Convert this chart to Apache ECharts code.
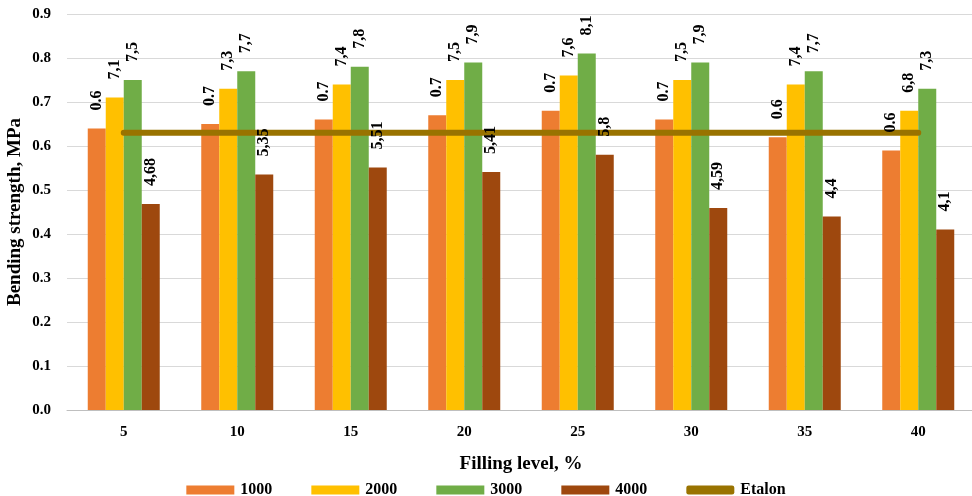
<!DOCTYPE html>
<html><head><meta charset="utf-8">
<script src="https://cdn.jsdelivr.net/npm/echarts@6/dist/echarts.min.js"></script>
<style>html,body{margin:0;padding:0;background:#fff}#c{width:972px;height:496px}</style>
</head><body><div id="c"></div>
<script>
const categories = ['5','10','15','20','25','30','35','40'];
const s1000 = [0.64,0.65,0.66,0.67,0.68,0.66,0.62,0.59];
const s2000 = [0.71,0.73,0.74,0.75,0.76,0.75,0.74,0.68];
const s3000 = [0.75,0.77,0.78,0.79,0.81,0.79,0.77,0.73];
const s4000 = [0.468,0.535,0.551,0.541,0.58,0.459,0.44,0.41];
const etalon = [0.63,0.63,0.63,0.63,0.63,0.63,0.63,0.63];
const lab1000 = ['0.6','0.7','0.7','0.7','0.7','0.7','0.6','0.6'];
const lab2000 = ['7,1','7,3','7,4','7,5','7,6','7,5','7,4','6,8'];
const lab3000 = ['7,5','7,7','7,8','7,9','8,1','7,9','7,7','7,3'];
const lab4000 = ['4,68','5,35','5,51','5,41','5,8','4,59','4,4','4,1'];
const yTicks = ['0.0','0.1','0.2','0.3','0.4','0.5','0.6','0.7','0.8','0.9'];

const font = 'Liberation Serif';
function barSeries(name, data, color){
  return {name, type:'bar', data, barWidth:18, barGap:'0%', xAxisIndex:0, z:2,
    itemStyle:{color}};
}
function labelSeries(name, data, labels){
  return {
    name, type:'bar', data, barWidth:18, barGap:'0%', xAxisIndex:1, z:10, silent:true,
    itemStyle:{color:'rgba(0,0,0,0)'},
    label:{show:true, position:'top', rotate:90, align:'left', verticalAlign:'middle', distance:18,
      fontFamily:font, fontWeight:'bold', fontSize:16, color:'#000',
      formatter:p=>labels[p.dataIndex]}
  };
}
const axisCommon = {type:'category',data:categories};
const chart = echarts.init(document.getElementById('c'));
chart.setOption({
  animation:false,
  grid:{left:67,width:908,top:14,bottom:86,containLabel:false,outerBoundsMode:'none'},
  legend:{top:477,left:'center',itemWidth:48,itemHeight:9,itemGap:39,
    textStyle:{fontFamily:font,fontWeight:'bold',fontSize:16,color:'#000',padding:[0,0,0,1]},
    data:[{name:'1000',icon:'rect'},{name:'2000',icon:'rect'},{name:'3000',icon:'rect'},{name:'4000',icon:'rect'},
      {name:'Etalon',icon:'roundRect',itemStyle:{color:'#997300'}}]},
  xAxis:[Object.assign({},axisCommon,{
    name:'Filling level, %',nameLocation:'middle',nameGap:45,
    nameTextStyle:{fontFamily:font,fontWeight:'bold',fontSize:19,color:'#000'},
    axisTick:{show:false},axisLine:{lineStyle:{color:'#bfbfbf',width:1}},
    axisLabel:{fontFamily:font,fontWeight:'bold',fontSize:15,color:'#000',margin:15}}),
    Object.assign({},axisCommon,{show:false,position:'bottom'})],
  yAxis:{type:'value',min:0,max:0.9,interval:0.1,
    name:'Bending strength, MPa',nameLocation:'middle',nameGap:42,nameMoveOverlap:false,
    nameTextStyle:{fontFamily:font,fontWeight:'bold',fontSize:19,color:'#000'},
    axisLabel:{fontFamily:font,fontWeight:'bold',fontSize:15,color:'#000',margin:16,
      formatter:(v)=>yTicks[Math.round(v*10)]},
    splitLine:{lineStyle:{color:'#d9d9d9',width:1}}},
  series:[
    barSeries('1000',s1000,'#ED7D31'),
    barSeries('2000',s2000,'#FFC000'),
    barSeries('3000',s3000,'#70AD47'),
    barSeries('4000',s4000,'#9E480E'),
    {name:'Etalon',type:'line',data:etalon,symbol:'none',xAxisIndex:0,
      lineStyle:{color:'#997300',width:6,cap:'round'},itemStyle:{color:'#997300'},z:5},
    labelSeries('l1000',s1000,lab1000),
    labelSeries('l2000',s2000,lab2000),
    labelSeries('l3000',s3000,lab3000),
    labelSeries('l4000',s4000,lab4000)
  ]
});
</script></body></html>
